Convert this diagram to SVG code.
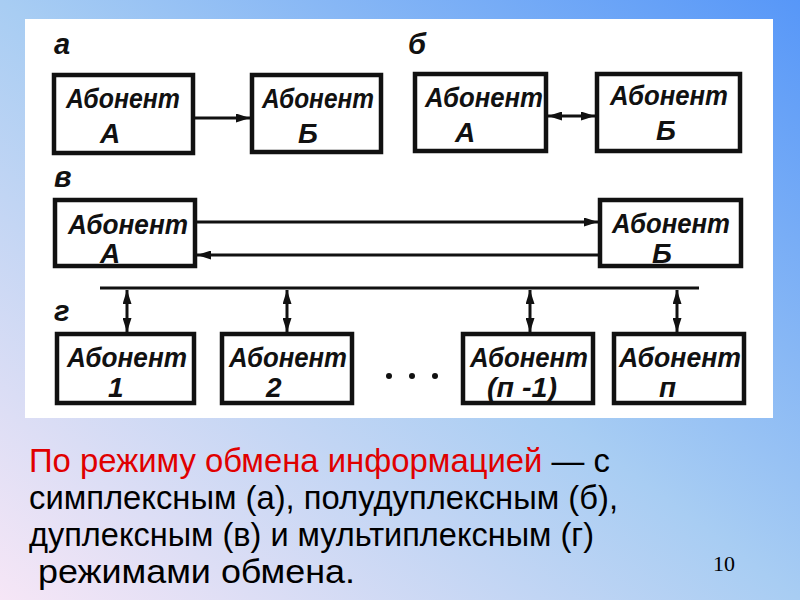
<svg xmlns="http://www.w3.org/2000/svg" width="800" height="600" viewBox="0 0 800 600">
<defs>
<linearGradient id="bg" x1="0" y1="1" x2="1" y2="0">
<stop offset="0" stop-color="#f6e6f6"/>
<stop offset="0.5" stop-color="#a8cdf3"/>
<stop offset="1" stop-color="#5797f8"/>
</linearGradient>
<marker id="arr" viewBox="0 0 14 9" refX="14" refY="4.5" markerWidth="14" markerHeight="9" markerUnits="userSpaceOnUse" orient="auto-start-reverse">
<path d="M0,0 L14,4.5 L0,9 z" fill="#111"/>
</marker>
<style>
.box{fill:#fff;stroke:#111;stroke-width:4.5}
.lbl{font-family:"Liberation Sans",Arial,sans-serif;font-style:italic;font-weight:bold;font-size:28px;fill:#111}
.let{font-family:"Liberation Sans",Arial,sans-serif;font-style:italic;font-weight:bold;font-size:29px;fill:#111}
.ln{stroke:#111;stroke-width:3;fill:none}
.txt{font-family:"Liberation Sans",Arial,sans-serif;font-size:33px;fill:#000}
</style>
</defs>
<rect x="0" y="0" width="800" height="600" fill="url(#bg)"/>
<rect x="25" y="19" width="748" height="399" fill="#fff"/>

<text class="let" x="54" y="54">а</text>
<text class="let" x="408" y="54">б</text>
<text class="let" x="54" y="187">в</text>
<text class="let" x="54" y="321">г</text>

<g id="a-A"><rect class="box" x="54" y="75" width="139" height="78"/><text class="lbl" x="66" y="108" textLength="114" lengthAdjust="spacingAndGlyphs">Абонент</text><text class="lbl" x="100" y="143">А</text></g>
<g id="a-B"><rect class="box" x="252" y="75" width="129" height="77"/><text class="lbl" x="262" y="108" textLength="112" lengthAdjust="spacingAndGlyphs">Абонент</text><text class="lbl" x="298" y="143">Б</text></g>
<g id="b-A"><rect class="box" x="415" y="74" width="131" height="77"/><text class="lbl" x="425" y="107" textLength="118" lengthAdjust="spacingAndGlyphs">Абонент</text><text class="lbl" x="455" y="142">А</text></g>
<g id="b-B"><rect class="box" x="597" y="74" width="143" height="77"/><text class="lbl" x="610" y="105" textLength="118" lengthAdjust="spacingAndGlyphs">Абонент</text><text class="lbl" x="656" y="140">Б</text></g>
<g id="v-A"><rect class="box" x="55" y="200" width="140" height="66"/><text class="lbl" x="68" y="234" textLength="120" lengthAdjust="spacingAndGlyphs">Абонент</text><text class="lbl" x="100" y="263">А</text></g>
<g id="v-B"><rect class="box" x="600" y="200" width="141" height="66"/><text class="lbl" x="612" y="233" textLength="118" lengthAdjust="spacingAndGlyphs">Абонент</text><text class="lbl" x="652" y="263">Б</text></g>
<g id="g-1"><rect class="box" x="57" y="334" width="137" height="69"/><text class="lbl" x="67" y="367" textLength="120" lengthAdjust="spacingAndGlyphs">Абонент</text><text class="lbl" x="108" y="397">1</text></g>
<g id="g-2"><rect class="box" x="222" y="334" width="130" height="69"/><text class="lbl" x="229" y="367" textLength="118" lengthAdjust="spacingAndGlyphs">Абонент</text><text class="lbl" x="266" y="397">2</text></g>
<g id="g-n1"><rect class="box" x="463" y="334" width="130" height="69"/><text class="lbl" x="470" y="367" textLength="118" lengthAdjust="spacingAndGlyphs">Абонент</text><text class="lbl" x="487" y="397" textLength="70" lengthAdjust="spacingAndGlyphs">(п -1)</text></g>
<g id="g-n"><rect class="box" x="614" y="334" width="130" height="69"/><text class="lbl" x="619" y="367" textLength="122" lengthAdjust="spacingAndGlyphs">Абонент</text><text class="lbl" x="659" y="397">п</text></g>

<g id="dots" fill="#111"><circle cx="389" cy="376" r="3"/><circle cx="412" cy="376" r="3"/><circle cx="435" cy="376" r="3"/></g>

<g id="connectors">
<line class="ln" x1="195" y1="118" x2="250" y2="118" marker-end="url(#arr)"/>
<line class="ln" x1="548" y1="116" x2="595" y2="116" marker-start="url(#arr)" marker-end="url(#arr)"/>
<line class="ln" x1="197" y1="222" x2="598" y2="222" marker-end="url(#arr)"/>
<line class="ln" x1="598" y1="255" x2="197" y2="255" marker-end="url(#arr)"/>
<line class="ln" x1="100" y1="288" x2="699" y2="288"/>
<line class="ln" x1="127" y1="290" x2="127" y2="332" marker-start="url(#arr)" marker-end="url(#arr)"/>
<line class="ln" x1="287" y1="290" x2="287" y2="332" marker-start="url(#arr)" marker-end="url(#arr)"/>
<line class="ln" x1="530" y1="290" x2="530" y2="332" marker-start="url(#arr)" marker-end="url(#arr)"/>
<line class="ln" x1="677" y1="290" x2="677" y2="332" marker-start="url(#arr)" marker-end="url(#arr)"/>
</g>

<text class="txt" x="29" y="472" textLength="581" lengthAdjust="spacingAndGlyphs"><tspan fill="#e00000">По режиму обмена информацией</tspan> — с</text>
<text class="txt" x="29" y="509" textLength="589" lengthAdjust="spacingAndGlyphs">симплексным (а), полудуплексным (б),</text>
<text class="txt" x="29" y="546" textLength="565" lengthAdjust="spacingAndGlyphs">дуплексным (в) и мультиплексным (г)</text>
<text class="txt" x="38" y="583" textLength="317" lengthAdjust="spacingAndGlyphs">режимами обмена.</text>
<text x="713" y="571" font-family="Liberation Serif,Times New Roman,serif" font-size="22" fill="#000">10</text>
</svg>
